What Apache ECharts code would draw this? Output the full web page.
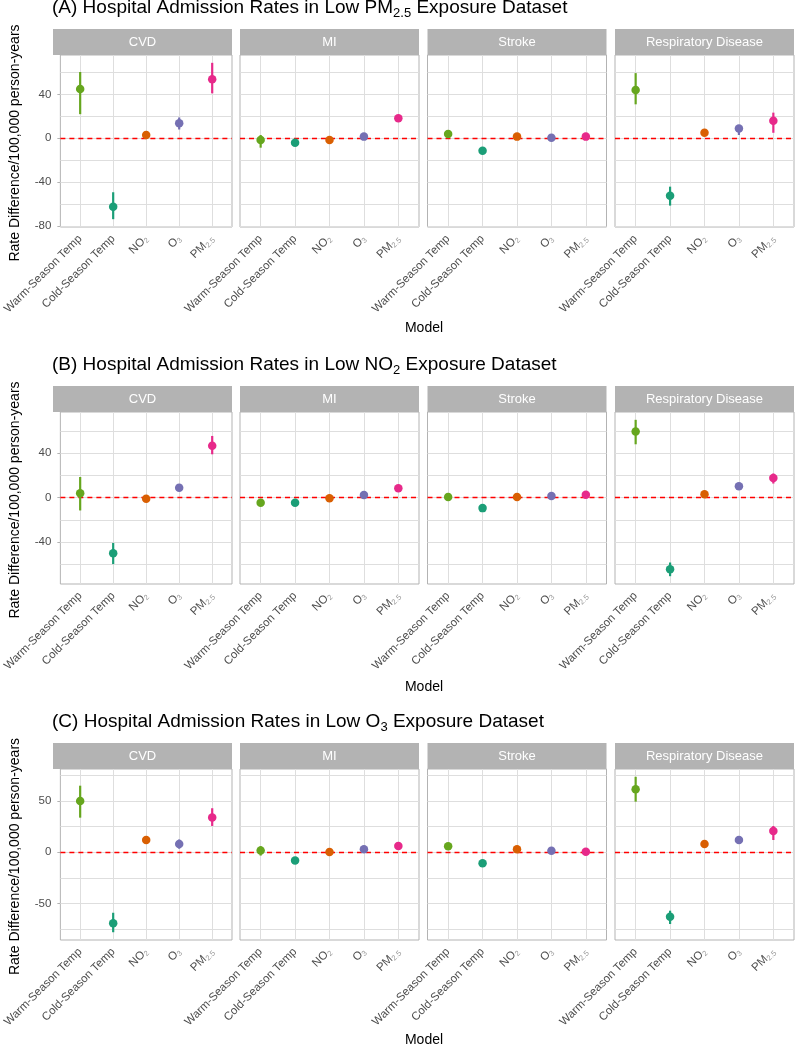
<!DOCTYPE html>
<html><head><meta charset="utf-8">
<script src="https://cdn.jsdelivr.net/npm/echarts@6/dist/echarts.min.js"></script>
<style>html,body{margin:0;padding:0;background:#fff}#c{width:795px;height:1050px}</style>
</head><body><div id="c"></div>
<script>
// ---------------- DATA ----------------
const models = ['Warm-Season Temp', 'Cold-Season Temp', 'NO2', 'O3', 'PM2.5'];
const outcomes = ['CVD', 'MI', 'Stroke', 'Respiratory Disease'];

// (A) Low PM2.5 dataset: rows = outcomes, cols = models
const pmEst = [[45, -62.5, 3, 13.7, 54], [-1.5, -4, -1.5, 1.5, 18.3], [4, -11.5, 1.5, 0.5, 1.5], [44, -52.5, 5, 9, 16]];
const pmLo  = [[22, -73.9, 1, 8, 41], [-8.6, -6, -3.5, -0.5, 15.5], [2, -13.5, -0.5, -1.5, -0.5], [31, -61.5, 3, 3, 5]];
const pmHi  = [[60.5, -49.3, 5, 19, 68.9], [3, -2, 0.5, 3.5, 21], [6, -9.5, 3.5, 2.5, 3.5], [59.5, -44.2, 7, 12, 23.4]];

// (B) Low NO2 dataset
const no2Est = [[4, -50, -1, 9, 46.7], [-4.5, -4.5, -0.5, 2.5, 8.5], [0.5, -9.4, 0.5, 1.5, 2.7], [59.4, -64.3, 3, 10.2, 17.7]];
const no2Lo  = [[-11.5, -59.7, -3, 7, 39], [-6.5, -6.5, -2.5, 0.5, 6.5], [-1.5, -11.4, -1.5, -0.5, 0.7], [48, -70.6, 1, 8.2, 12.7]];
const no2Hi  = [[18.6, -40.7, 1, 11, 55.5], [-2.5, -2.5, 1.5, 4.5, 10.5], [2.5, -7.4, 2.5, 3.5, 4.7], [70, -58.3, 5, 12.2, 21.7]];

// (C) Low O3 dataset
const o3Est = [[50, -69.3, 12, 8, 34], [1.7, -8.1, 0.3, 3, 6.2], [6, -10.7, 3, 1.6, 0.6], [61.5, -62.8, 8, 12, 20.8]];
const o3Lo  = [[33.8, -78, 10, 3.5, 25.7], [-3.2, -10, -1.7, 1, 4.2], [4, -12.7, 1, -0.4, -1.4], [49.4, -70, 6, 10, 12]];
const o3Hi  = [[65, -59, 14, 12.5, 43], [6, -6, 2.3, 5, 8.2], [8, -8.7, 5, 3.6, 2.6], [73.7, -57, 10, 14, 25.7]];

// y tick labels / gridlines
const pmMajor = [-80, -40, 0, 40];
const pmGrid = [-80, -60, -40, -20, 0, 20, 40, 60];
const no2Major = [-40, 0, 40];
const no2Grid = [-60, -40, -20, 0, 20, 40, 60];
const o3Major = [-50, 0, 50];
const o3Grid = [-75, -50, -25, 0, 25, 50, 75];
const refLine = 0;

// ---------------- STYLE / LAYOUT ----------------
const FONT = '"Liberation Sans", Arial, sans-serif';
const colors = ['#66A61E', '#1B9E77', '#D95F02', '#7570B3', '#E7298A'];
const panelLeft = [53, 240, 427.5, 615];
const panelW = 179;
const plotTop = [55, 412, 769];
const plotBottom = [227, 584, 940];
const stripH = 26;
const titleY = [8, 365, 722];
const modelTitleY = [328, 687, 1040];

const sets = [
  { title: '{t|(A) Hospital Admission Rates in Low PM}{s|2.5}{t| Exposure Dataset}', est: pmEst, lo: pmLo, hi: pmHi, major: pmMajor, grid: pmGrid },
  { title: '{t|(B) Hospital Admission Rates in Low NO}{s|2}{t| Exposure Dataset}', est: no2Est, lo: no2Lo, hi: no2Hi, major: no2Major, grid: no2Grid },
  { title: '{t|(C) Hospital Admission Rates in Low O}{s|3}{t| Exposure Dataset}', est: o3Est, lo: o3Lo, hi: o3Hi, major: o3Major, grid: o3Grid }
];

function modelLabel(v) {
  const i = Math.round(v) - 1;
  const m = models[i];
  if (m === 'NO2') return '{a|NO}{b|2}';
  if (m === 'O3') return '{a|O}{b|3}';
  if (m === 'PM2.5') return '{a|PM}{b|2.5}';
  return '{a|' + m + '}';
}

const grids = [], xAxes = [], yAxes = [], series = [], graphics = [];
const xPos = models.map((m, i) => i + 1);

sets.forEach((ds, d) => {
  let dmin = Infinity, dmax = -Infinity;
  ds.lo.forEach(r => r.forEach(v => { dmin = Math.min(dmin, v); }));
  ds.hi.forEach(r => r.forEach(v => { dmax = Math.max(dmax, v); }));
  const R = dmax - dmin;
  const ymin = dmin - 0.05 * R, ymax = dmax + 0.05 * R;

  graphics.push({
    type: 'text', x: 52, y: titleY[d], z: 10,
    style: {
      text: ds.title, verticalAlign: 'middle', align: 'left',
      rich: {
        t: { fontSize: 19, lineHeight: 24, fontFamily: FONT, fill: '#000' },
        s: { fontSize: 13, lineHeight: 13, padding: [11, 0, 0, 0], fontFamily: FONT, fill: '#000', verticalAlign: 'bottom' }
      }
    }
  });
  graphics.push({
    type: 'text', x: 15, y: (plotTop[d] + plotBottom[d]) / 2 + 2, rotation: Math.PI / 2, z: 10,
    style: { text: 'Rate Difference/100,000 person-years', fontSize: 14, fontFamily: FONT, fill: '#000', align: 'center', verticalAlign: 'middle' }
  });
  graphics.push({
    type: 'text', x: 424, y: modelTitleY[d], z: 10,
    style: { text: 'Model', fontSize: 14, fontFamily: FONT, fill: '#000', align: 'center', verticalAlign: 'middle' }
  });

  outcomes.forEach((oc, o) => {
    const gi = d * 4 + o;
    grids.push({
      left: panelLeft[o], top: plotTop[d], width: panelW, height: plotBottom[d] - plotTop[d],
      show: true, borderColor: '#B3B3B3', borderWidth: 1, backgroundColor: '#fff'
    });
    graphics.push({
      type: 'rect', z: 10,
      shape: { x: panelLeft[o], y: plotTop[d] - stripH, width: panelW, height: stripH },
      style: { fill: '#B3B3B3' }
    });
    graphics.push({
      type: 'text', z: 11, x: panelLeft[o] + panelW / 2, y: plotTop[d] - stripH / 2,
      style: { text: oc, fill: '#FFFFFF', fontSize: 13, fontFamily: FONT, align: 'center', verticalAlign: 'middle' }
    });
    xAxes.push({
      gridIndex: gi, type: 'value', min: 0.4, max: 5.6,
      axisLine: { show: false }, splitLine: { show: false },
      axisTick: { show: true, customValues: xPos, length: 3, lineStyle: { color: '#B3B3B3' } },
      axisLabel: {
        customValues: xPos, rotate: 45, margin: 10, formatter: modelLabel,
        rich: {
          a: { fontSize: 11.5, lineHeight: 14, color: '#4D4D4D', fontFamily: FONT },
          b: { fontSize: 7.5, lineHeight: 8, padding: [6, 0, 0, 0], color: '#9A9A9A', fontFamily: FONT, verticalAlign: 'bottom' }
        }
      }
    });
    yAxes.push({
      gridIndex: gi, type: 'value', min: ymin, max: ymax,
      axisLine: { show: false }, splitLine: { show: false },
      axisTick: { show: o === 0, customValues: ds.major, length: 3, lineStyle: { color: '#B3B3B3' } },
      axisLabel: { show: o === 0, customValues: ds.major, margin: 9, color: '#4D4D4D', fontSize: 11.5, fontFamily: FONT }
    });
    // gridlines + red dashed zero reference line (last => drawn on top)
    series.push({
      type: 'scatter', xAxisIndex: gi, yAxisIndex: gi, data: [], silent: true, z: 1,
      markLine: {
        z: 1, silent: true, symbol: ['none', 'none'], label: { show: false }, animation: false,
        lineStyle: { color: '#DEDEDE', width: 1, type: 'solid' },
        emphasis: { disabled: true },
        data: ds.grid.map(v => ({ yAxis: v }))
          .concat(xPos.map(v => ({ xAxis: v })))
          .concat([{ yAxis: refLine, lineStyle: { color: '#FF0000', width: 1.3, type: [5, 4] } }])
      }
    });
    // error bars
    series.push({
      type: 'custom', xAxisIndex: gi, yAxisIndex: gi, z: 3, silent: true,
      encode: { x: 0, y: [1, 2] },
      data: models.map((m, i) => [i + 1, ds.lo[o][i], ds.hi[o][i]]),
      renderItem: function (params, api) {
        const p1 = api.coord([api.value(0), api.value(1)]);
        const p2 = api.coord([api.value(0), api.value(2)]);
        return { type: 'line', shape: { x1: p1[0], y1: p1[1], x2: p2[0], y2: p2[1] },
                 style: { stroke: colors[params.dataIndex], lineWidth: 2.2, fill: null } };
      }
    });
    // point estimates
    series.push({
      type: 'scatter', xAxisIndex: gi, yAxisIndex: gi, z: 4, silent: true, symbolSize: 8.5,
      data: models.map((m, i) => ({ value: [i + 1, ds.est[o][i]], itemStyle: { color: colors[i], opacity: 1, borderWidth: 0 } }))
    });
  });
});

const chart = echarts.init(document.getElementById('c'), null, { renderer: 'canvas' });
chart.setOption({
  backgroundColor: '#fff',
  animation: false,
  textStyle: { fontFamily: FONT },
  grid: grids, xAxis: xAxes, yAxis: yAxes, series: series, graphic: graphics
});
</script></body></html>
